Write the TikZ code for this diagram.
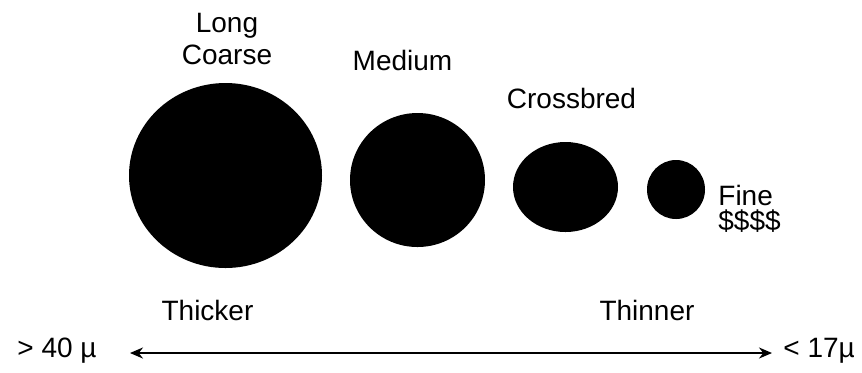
\documentclass[tikz,border=0pt]{standalone}
\usepackage{fontspec}
\setmainfont{Liberation Sans}
\usetikzlibrary{arrows.meta,positioning,shapes.geometric}

\begin{document}
\begin{tikzpicture}[
  x=0.5pt, y=-0.5pt,
  font=\fontsize{14}{16}\selectfont,
  >={Stealth[length=6.5pt,width=5.5pt]},
  fibre/.style={ellipse, fill=black, inner sep=0pt},
  lbl/.style={inner sep=0pt, align=center},
  arr/.style={<->, line width=1pt, draw=black}
]
\useasboundingbox (0,0) rectangle (862,372);

% ===== Fibre cross sections =====
\node[fibre, minimum width=96.5pt, minimum height=92.5pt] (coarse) at (225.5,175.5) {};
\node[fibre, minimum width=67.5pt, minimum height=67pt]   (medium) at (417.5,180) {};
\node[fibre, minimum width=52.5pt, minimum height=45pt]   (cross)  at (565.5,187) {};
\node[fibre, minimum width=29pt,   minimum height=29.5pt] (fine)   at (676,189.5) {};

% ===== Labels =====
\node[lbl, anchor=north] (lcoarse) at (227,13)  {Long\\Coarse};
\node[lbl, anchor=base]  (lmedium) at (402.5,70) {Medium};
\node[lbl, anchor=base]  (lcross)  at (571.5,108) {Crossbred};
\node[lbl, anchor=north west, align=left, font=\fontsize{14}{12.5}\selectfont] (lfine) at (718,185) {Fine\\\$\$\$\$};

\node[lbl, anchor=base] (thicker) at (207.5,320) {Thicker};
\node[lbl, anchor=base] (thinner) at (647,320)   {Thinner};

% ===== Diameter scale =====
\node[lbl, anchor=base west] (thick) at (17,357)  {> 40 µ};
\node[lbl, anchor=base west] (thin)  at (783,357) {< 17µ};
\draw[arr, shorten <=16.5pt, shorten >=5.5pt] ([yshift=2pt]thick.base east) -- ([yshift=2pt]thin.base west);

\end{tikzpicture}
\end{document}
